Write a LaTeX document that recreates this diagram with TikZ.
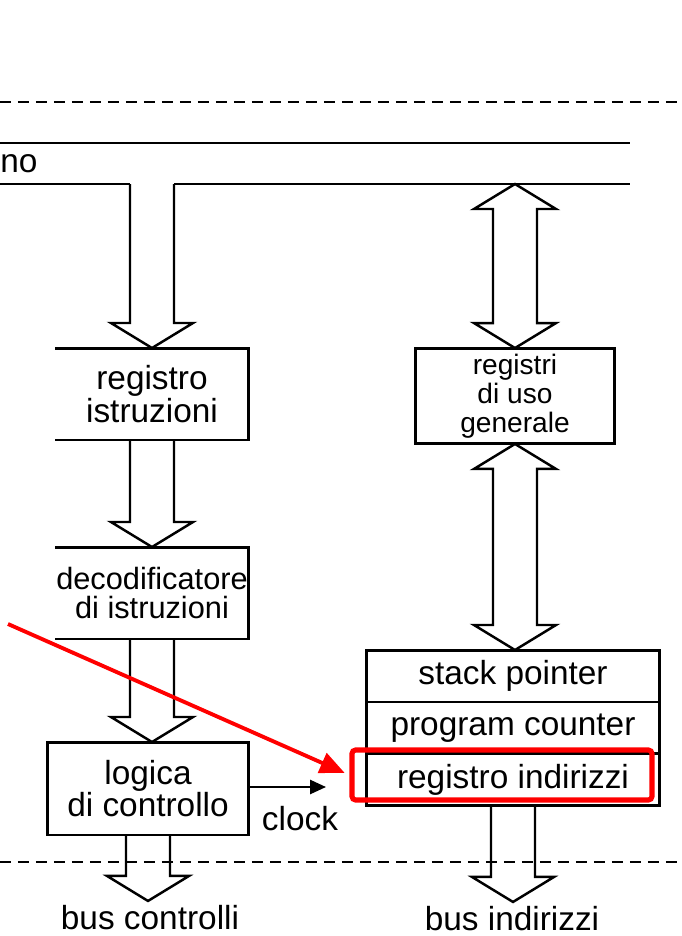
\documentclass[tikz,border=0pt]{standalone}
\usepackage{fontspec}
\setmainfont{Liberation Sans}
\usetikzlibrary{calc,positioning,arrows.meta}

\newcommand{\txt}{\fontsize{19}{17}\selectfont}
\newcommand{\txtmid}{\fontsize{17.5}{17}\selectfont}
\newcommand{\txtsmall}{\fontsize{16}{16.5}\selectfont}

% block arrow: shaft leaves #1, tip at #2
\newcommand{\fatdown}[2]{%
  \draw[fat] ($(#1)+(-22,0)$) -- ($(#2)+(-22,-25)$) -- ($(#2)+(-41,-25)$) -- (#2)
    -- ($(#2)+(41,-25)$) -- ($(#2)+(22,-25)$) -- ($(#1)+(22,0)$);}
% block arrow with a head at both ends
\newcommand{\fatboth}[2]{%
  \draw[fat] (#1) -- ($(#1)+(41,25)$) -- ($(#1)+(22,25)$) -- ($(#2)+(22,-25)$)
    -- ($(#2)+(41,-25)$) -- (#2) -- ($(#2)+(-41,-25)$) -- ($(#2)+(-22,-25)$)
    -- ($(#1)+(-22,25)$) -- ($(#1)+(-41,25)$) -- cycle;}

\tikzset{
  unit/.style={rectangle, minimum width=3.88cm, minimum height=1.84cm,
    align=center, font=\txt, outer sep=0pt, inner xsep=0pt},
  boxline/.style={line width=1.7pt},
  reg/.style={unit, draw, boxline, minimum width=5.88cm, minimum height=1.04cm},
  fat/.style={line width=1.4pt},
  busline/.style={line width=1pt},
  sep/.style={line width=1.1pt, dash pattern=on 0.22cm off 0.14cm},
  lbl/.style={font=\txt, inner sep=2pt},
  hilite/.style={draw=red, line width=2.9pt, rounded corners=2pt,
    minimum width=6cm, minimum height=1cm},
  redarrow/.style={red, line width=2.2pt, -{Triangle[length=14pt,width=12pt]}},
  clkarrow/.style={line width=1.1pt, -{Triangle[length=9pt,width=8pt]}}
}

\begin{document}
\begin{tikzpicture}[x=0.02cm, y=-0.02cm]
\useasboundingbox (0,0) rectangle (681,936);

% frame of the cpu
\draw[sep] (0,102) -- (681,102);
\draw[sep] (0,862) -- (681,862);

\node[unit] (ri) at (152,394) {registro\\istruzioni};
\node[unit, font=\txtmid] (dec) at (152,593) {decodificatore\\di istruzioni};
\node[unit, draw, boxline, minimum width=4.04cm, minimum height=1.86cm] (lc) at (148,788.5) {logica\\di controllo};
\draw[boxline] (ri.north west) -- (ri.north east) -- (ri.south east) -- (ri.south west);
\draw[boxline] (dec.north west) -- (dec.north east) -- (dec.south east) -- (dec.south west);

\node[unit, draw, boxline, minimum width=4cm, font=\txtsmall] (rg) at (515,396) {registri\\di uso\\generale};
\node[reg] (sp) at (513,676) {stack pointer};
\node[reg, below=0pt of sp] (pc) {program counter};
\node[reg, below=0pt of pc] (ind) {registro indirizzi};

\node[lbl, inner sep=0pt, anchor=base west] (bi) at (0,172) {no};
\node[lbl, anchor=base] (ck) at (300,830) {clock};
\node[lbl, anchor=base] (bc) at (150,929) {bus controlli};
\node[lbl, anchor=base] (ba) at (512,930) {bus indirizzi};

% bus lines
\coordinate (bus1) at (0,143);
\coordinate (bus2) at (0,184);
\draw[busline] (bus1) -- (630,143);
\draw[busline] (bus2) -- ($(ri.north |- bus2)+(-22,0)$);
\draw[busline] ($(ri.north |- bus2)+(22,0)$) -- (630,184);

\fatdown{ri.north |- bus2}{ri.north}
\fatdown{ri.south}{dec.north}
\fatdown{dec.south}{dec.south |- lc.north}
\fatdown{lc.south}{lc.south |- bc.north}
\fatdown{ind.south}{ind.south |- ba.north}
\fatboth{rg.north |- bus2}{rg.north}
\fatboth{rg.south}{rg.south |- sp.north}

\coordinate (clk) at (326,787);
\draw[clkarrow] (lc.east |- clk) -- (clk);

\node[hilite] (hl) at (502,775) {};
\coordinate (pin) at (8,624);
\draw[redarrow, shorten >=3pt] (pin) -- (hl.west);
\end{tikzpicture}
\end{document}
